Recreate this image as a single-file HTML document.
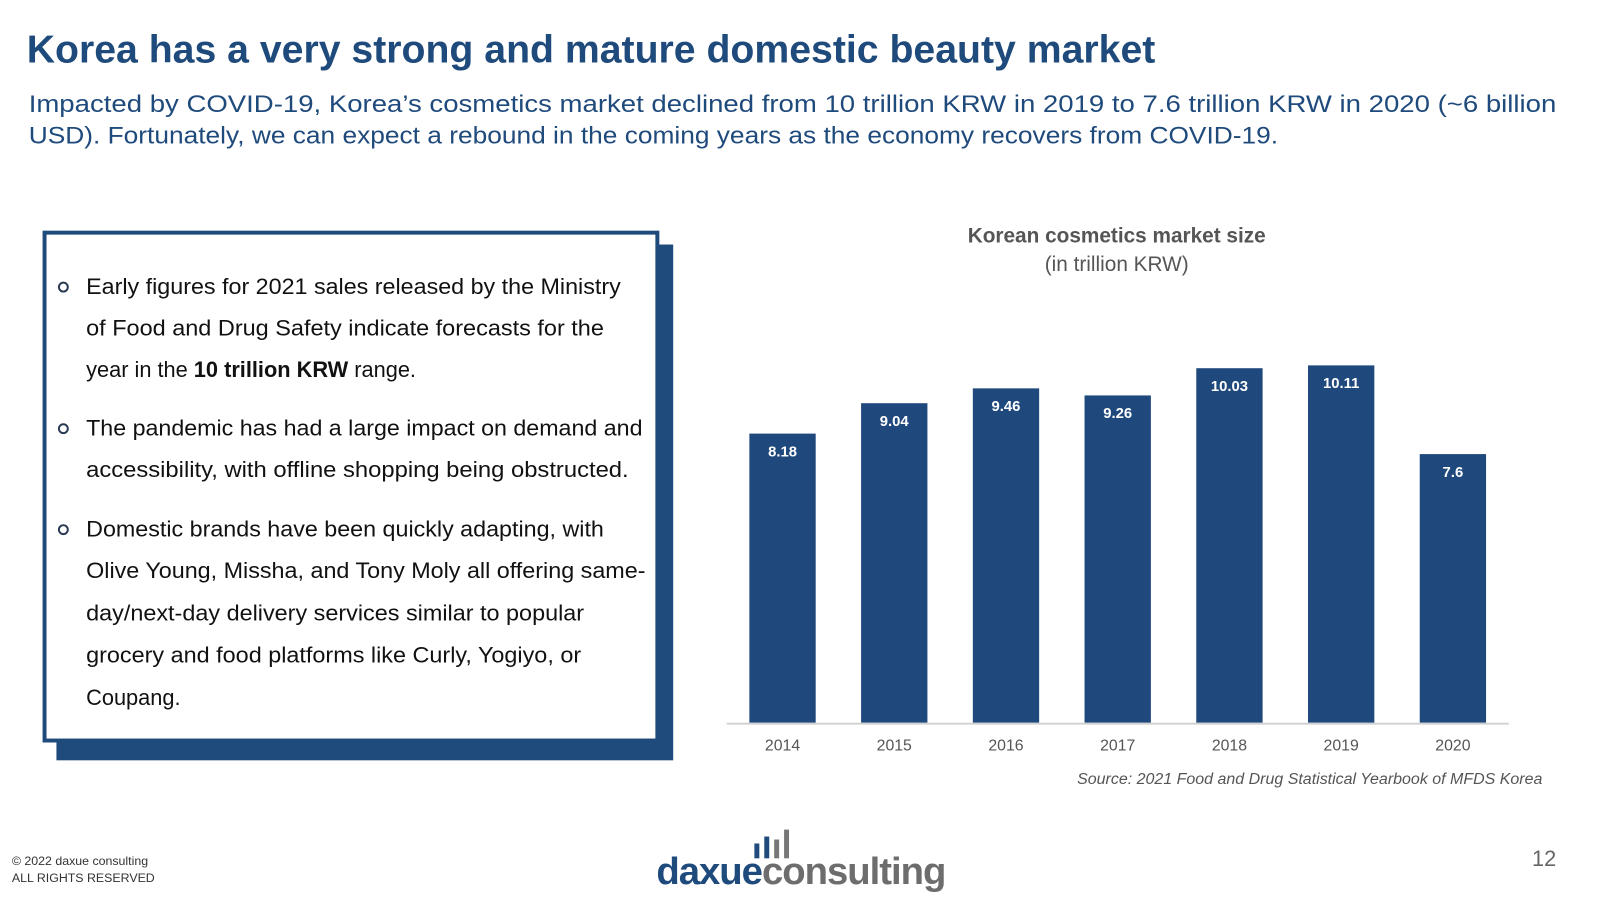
<!DOCTYPE html>
<html><head><meta charset="utf-8"><style>
html,body{margin:0;padding:0;background:#fff;}
svg{display:block;font-family:"Liberation Sans",Arial,sans-serif;}
</style></head><body>
<svg width="1600" height="900" viewBox="0 0 1600 900">
<g transform="scale(0.99)">
<text x="27" y="63" font-size="39" font-weight="bold" fill="#1f4a7c" textLength="1140" lengthAdjust="spacingAndGlyphs">Korea has a very strong and mature domestic beauty market</text>
<g font-size="24" fill="#1f4a7c">
<text x="29" y="113" textLength="1543" lengthAdjust="spacingAndGlyphs">Impacted by COVID-19, Korea’s cosmetics market declined from 10 trillion KRW in 2019 to 7.6 trillion KRW in 2020 (~6 billion</text>
<text x="29" y="145" textLength="1262" lengthAdjust="spacingAndGlyphs">USD). Fortunately, we can expect a rebound in the coming years as the economy recovers from COVID-19.</text>
</g>
<rect x="57" y="247" width="623" height="521" fill="#1f4a7c"/>
<rect x="45" y="235" width="619" height="513" fill="#fff" stroke="#1f4a7c" stroke-width="4"/>
<g font-size="22" fill="#111">
<circle cx="64" cy="290" r="4.5" fill="none" stroke="#2a3a55" stroke-width="2"/>
<circle cx="64" cy="433" r="4.5" fill="none" stroke="#2a3a55" stroke-width="2"/>
<circle cx="64" cy="535" r="4.5" fill="none" stroke="#2a3a55" stroke-width="2"/>
<text x="87" y="297" textLength="540" lengthAdjust="spacingAndGlyphs">Early figures for 2021 sales released by the Ministry</text>
<text x="87" y="339" textLength="523" lengthAdjust="spacingAndGlyphs">of Food and Drug Safety indicate forecasts for the</text>
<text x="87" y="381">year in the <tspan font-weight="bold">10 trillion KRW</tspan> range.</text>
<text x="87" y="440" textLength="562" lengthAdjust="spacingAndGlyphs">The pandemic has had a large impact on demand and</text>
<text x="87" y="482" textLength="548" lengthAdjust="spacingAndGlyphs">accessibility, with offline shopping being obstructed.</text>
<text x="87" y="542" textLength="523" lengthAdjust="spacingAndGlyphs">Domestic brands have been quickly adapting, with</text>
<text x="87" y="584" textLength="565" lengthAdjust="spacingAndGlyphs">Olive Young, Missha, and Tony Moly all offering same-</text>
<text x="87" y="627" textLength="503" lengthAdjust="spacingAndGlyphs">day/next-day delivery services similar to popular</text>
<text x="87" y="669" textLength="500" lengthAdjust="spacingAndGlyphs">grocery and food platforms like Curly, Yogiyo, or</text>
<text x="87" y="712">Coupang.</text>
</g>
<text x="1128" y="245" text-anchor="middle" font-size="21" font-weight="bold" fill="#555">Korean cosmetics market size</text>
<text x="1128" y="274" text-anchor="middle" font-size="21" fill="#555">(in trillion KRW)</text>
<g id="chart"></g>
<text x="1558" y="792" text-anchor="end" font-size="16" font-style="italic" fill="#555" textLength="470" lengthAdjust="spacingAndGlyphs">Source: 2021 Food and Drug Statistical Yearbook of MFDS Korea</text>
<g font-size="12.5" fill="#333">
<text x="12" y="874">© 2022 daxue consulting</text>
<text x="12" y="891">ALL RIGHTS RESERVED</text>
</g>
<g>
<rect x="762" y="852" width="5" height="15" fill="#1f4a7c"/>
<rect x="772" y="845" width="5" height="22" fill="#1f4a7c"/>
<rect x="782" y="848" width="5" height="19" fill="#777"/>
<rect x="792" y="838" width="5" height="29" fill="#777"/>
<text x="663" y="893" font-size="38" font-weight="bold" letter-spacing="-1" textLength="292" lengthAdjust="spacingAndGlyphs"><tspan fill="#1f4a7c">daxue</tspan><tspan fill="#6d6d6d">consulting</tspan></text>
</g>
<text x="1572" y="875" text-anchor="end" font-size="22" fill="#666">12</text>
</g>
</svg>
<script>
const years = ["2014","2015","2016","2017","2018","2019","2020"];
const values = [8.18, 9.04, 9.46, 9.26, 10.03, 10.11, 7.6];
const valueLabels = ["8.18","9.04","9.46","9.26","10.03","10.11","7.6"];
const NS = "http://www.w3.org/2000/svg";
const g = document.getElementById("chart");
const x0 = 734, x1 = 1524, baseY = 730, pxPerUnit = 35.7, barW = 67;
const step = (x1 - x0) / years.length;
function xCenter(i){ return x0 + step * (i + 0.5); }
function yVal(v){ return baseY - v * pxPerUnit; }
years.forEach((yr, i) => {
  const cx = xCenter(i), top = yVal(values[i]);
  const r = document.createElementNS(NS, "rect");
  r.setAttribute("x", cx - barW/2); r.setAttribute("y", top);
  r.setAttribute("width", barW); r.setAttribute("height", baseY - top);
  r.setAttribute("fill", "#1f497d");
  
  
  g.appendChild(r);
  const t = document.createElementNS(NS, "text");
  t.setAttribute("x", cx); t.setAttribute("y", top + 23);
  t.setAttribute("text-anchor", "middle"); t.setAttribute("font-size", "15");
  t.setAttribute("font-weight", "bold"); t.setAttribute("fill", "#fff");
  t.textContent = valueLabels[i];
  
  
  g.appendChild(t);
  const l = document.createElementNS(NS, "text");
  l.setAttribute("x", cx); l.setAttribute("y", baseY + 28);
  l.setAttribute("text-anchor", "middle"); l.setAttribute("font-size", "16"); l.setAttribute("fill", "#555");
  l.textContent = yr;
  
  
  g.appendChild(l);
});
const ax = document.createElementNS(NS, "line");
ax.setAttribute("x1", x0); ax.setAttribute("x2", x1); ax.setAttribute("y1", baseY + 1); ax.setAttribute("y2", baseY + 1);
ax.setAttribute("stroke", "#d0d0d0"); ax.setAttribute("stroke-width", "2");


g.appendChild(ax);
</script>
</body></html>
